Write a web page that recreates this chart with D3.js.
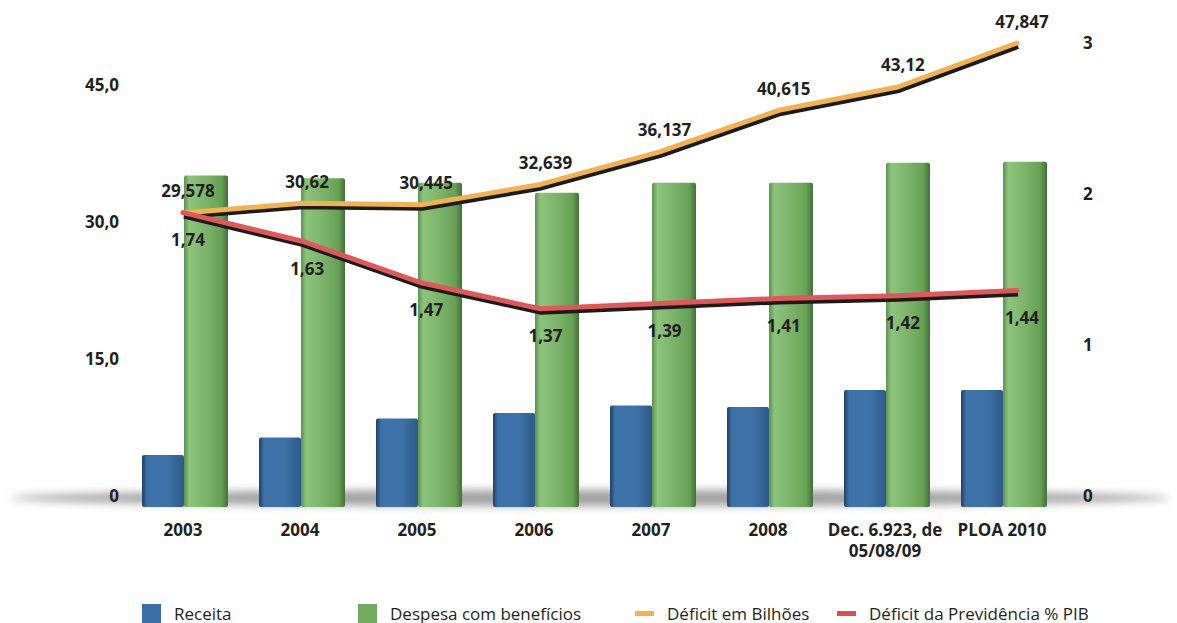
<!DOCTYPE html>
<html>
<head>
<meta charset="utf-8">
<script src="https://cdn.jsdelivr.net/npm/d3@7"></script>
<style>
	body { margin: 0; background: #fff; }
	text { font-family: "Open Sans", sans-serif; fill: #231f20; }
</style>
</head>
<body>
<script>
"use strict";

// chart data
var categories = ["2003", "2004", "2005", "2006", "2007", "2008", "Dec. 6.923, de\n05/08/09", "PLOA 2010"];
var receita = [5.7, 7.6, 9.7, 10.3, 11.1, 10.95, 12.8, 12.8];
var despesa = [36.3, 36.0, 35.5, 34.4, 35.5, 35.5, 37.7, 37.8];
var deficitBilhoes = [29.578, 30.62, 30.445, 32.639, 36.137, 40.615, 43.12, 47.847];
var deficitPib = [1.74, 1.63, 1.47, 1.37, 1.39, 1.41, 1.42, 1.44];
var leftTicks = [0, 15, 30, 45];
var rightTicks = [0, 1, 2, 3];
var legendItems = ["Receita", "Despesa com benefícios", "Déficit em Bilhões", "Déficit da Previdência % PIB"];

var width = 1177, height = 623;

var svg = d3.select("body").append("svg")
	.attr("width", width)
	.attr("height", height);

var defs = svg.append("defs");

function hGrad(id, stops) {
	var g = defs.append("linearGradient").attr("id", id)
		.attr("x1", "0%").attr("x2", "100%").attr("y1", "0%").attr("y2", "0%");
	stops.forEach(function (s) {
		g.append("stop").attr("offset", s[0]).attr("stop-color", s[1]);
	});
}
hGrad("gGreen", [["0%", "#5c9150"], ["12%", "#8cc47b"], ["55%", "#79b267"], ["85%", "#66a055"], ["100%", "#44703a"]]);
hGrad("gBlue", [["0%", "#203f62"], ["12%", "#3d72a8"], ["60%", "#3f73a8"], ["100%", "#2c5a8a"]]);

defs.append("filter").attr("id", "blur")
	.attr("x", "-10%").attr("y", "-200%").attr("width", "120%").attr("height", "500%")
	.append("feGaussianBlur").attr("stdDeviation", 4);

// scales
var x = d3.scaleBand().domain(categories).range([124.5, 1060.5]).padding(0);
var xLine = d3.scalePoint().domain(categories).range([183, 1017]);
var yLeft = d3.scaleLinear().domain([0, 45]).range([495, 84]);
var yBar = d3.scaleLinear().domain([0, 45]).range([507, 96]);
var yDef = d3.scaleLinear().domain([0, 45]).range([488, 69.5]);
var yPib = d3.scaleLinear().domain([1, 2]).range([405, 145]);
var yRight = d3.scaleLinear().domain([0, 3]).range([495, 42]);

function cx(c) { return x(c) + x.bandwidth() / 2; }
function fmt(v) { return String(v).replace(".", ","); }

// floor shadow
svg.append("ellipse")
	.attr("cx", 590).attr("cy", 498)
	.attr("rx", 580).attr("ry", 8)
	.attr("fill", "#a0a0a0")
	.attr("filter", "url(#blur)");

// axis labels
svg.append("g").selectAll("text")
	.data(leftTicks)
	.join("text")
	.attr("x", 119)
	.attr("y", function (d) { return yLeft(d); })
	.attr("text-anchor", "end")
	.attr("dominant-baseline", "central")
	.attr("font-size", 17)
	.attr("font-weight", "bold")
	.text(function (d) { return d === 0 ? "0" : d.toFixed(1).replace(".", ","); });

svg.append("g").selectAll("text")
	.data(rightTicks)
	.join("text")
	.attr("x", 1083)
	.attr("y", function (d) { return yRight(d); })
	.attr("dominant-baseline", "central")
	.attr("font-size", 17)
	.attr("font-weight", "bold")
	.text(function (d) { return d; });

// bars
var bars = svg.append("g");
bars.selectAll(".receita")
	.data(receita)
	.join("rect")
	.attr("class", "receita")
	.attr("x", function (d, i) { return cx(categories[i]) - 41; })
	.attr("width", 42)
	.attr("y", function (d) { return yBar(d); })
	.attr("height", function (d) { return yBar(0) - yBar(d); })
	.attr("rx", 2)
	.attr("fill", "url(#gBlue)");

bars.selectAll(".despesa")
	.data(despesa)
	.join("rect")
	.attr("class", "despesa")
	.attr("x", function (d, i) { return cx(categories[i]) + 1; })
	.attr("width", 44)
	.attr("y", function (d) { return yBar(d); })
	.attr("height", function (d) { return yBar(0) - yBar(d); })
	.attr("rx", 2)
	.attr("fill", "url(#gGreen)");

// lines with a dark drop shadow
function drawLine(values, yScale, color) {
	var line = d3.line()
		.x(function (d, i) { return xLine(categories[i]); })
		.y(function (d) { return yScale(d); });
	svg.append("path")
		.attr("d", line(values))
		.attr("fill", "none")
		.attr("stroke", "#1b1b1b")
		.attr("stroke-width", 6)
		.attr("stroke-linejoin", "round")
		.attr("transform", "translate(1,3)");
	svg.append("path")
		.attr("d", line(values))
		.attr("fill", "none")
		.attr("stroke", color)
		.attr("stroke-width", 5)
		.attr("stroke-linejoin", "round")
		.attr("stroke-linecap", "round");
}
drawLine(deficitBilhoes, yDef, "#f2b24f");
drawLine(deficitPib, yPib, "#e0585a");

// data labels
svg.append("g").selectAll("text")
	.data(deficitBilhoes)
	.join("text")
	.attr("x", function (d, i) { return xLine(categories[i]) + 5; })
	.attr("y", function (d) { return yDef(d) - 22; })
	.attr("text-anchor", "middle")
	.attr("dominant-baseline", "central")
	.attr("font-size", 17)
	.attr("font-weight", "bold")
	.text(fmt);

svg.append("g").selectAll("text")
	.data(deficitPib)
	.join("text")
	.attr("x", function (d, i) { return xLine(categories[i]) + 5; })
	.attr("y", function (d) { return yPib(d) + 27; })
	.attr("text-anchor", "middle")
	.attr("dominant-baseline", "central")
	.attr("font-size", 17)
	.attr("font-weight", "bold")
	.text(fmt);

// category labels
var catG = svg.append("g").selectAll("text")
	.data(categories)
	.join("text")
	.attr("x", function (d) { return cx(d); })
	.attr("y", 529)
	.attr("text-anchor", "middle")
	.attr("dominant-baseline", "central")
	.attr("font-size", 17)
	.attr("font-weight", "bold");
catG.selectAll("tspan")
	.data(function (d) { return d.split("\n"); })
	.join("tspan")
	.attr("x", function () { return cx(d3.select(this.parentNode).datum()); })
	.attr("dy", function (d, i) { return i === 0 ? 0 : 21; })
	.text(function (d) { return d; });

// legend
var legendX = [142, 358, 635, 837];
var legendColors = ["#3a6fa5", "#72aa5f", "#f2b24f", "#d94f4f"];
var legend = svg.append("g");
legendItems.forEach(function (name, i) {
	if (i < 2) {
		legend.append("rect")
			.attr("x", legendX[i]).attr("y", 604)
			.attr("width", 19).attr("height", 19)
			.attr("fill", legendColors[i]);
	} else {
		legend.append("rect")
			.attr("x", legendX[i]).attr("y", 611)
			.attr("width", 19).attr("height", 5)
			.attr("fill", legendColors[i]);
	}
	legend.append("text")
		.attr("x", legendX[i] + 32)
		.attr("y", 613)
		.attr("dominant-baseline", "central")
		.attr("font-size", 17)
		.text(name);
});
</script>
</body>
</html>
